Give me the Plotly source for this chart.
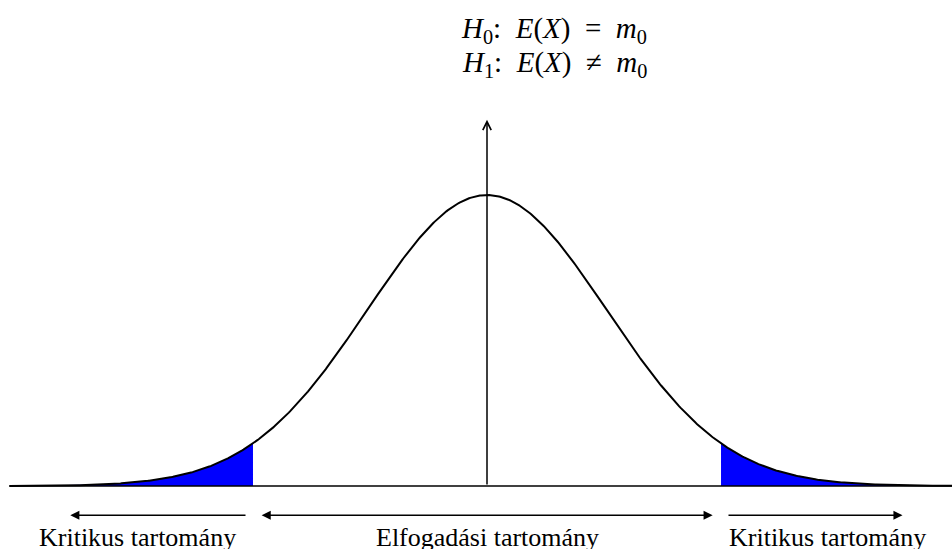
import numpy as np
import plotly.graph_objects as go

# Standard normal test statistic, two-sided test at the 5% level
mean = 0.0
sd = 1.0
z_crit = 1.96
x_min, x_max = -4.0, 4.0
y_axis_top = 0.502

hypotheses = [
    "<i>H</i><sub>0</sub>:&#8194;<i>E</i>(<i>X</i>)&#8194;=&#8194;<i>m</i><sub>0</sub>",
    "<i>H</i><sub>1</sub>:&#8194;<i>E</i>(<i>X</i>)&#8194;≠&#8194;<i>m</i><sub>0</sub>",
]
region_labels = ["Kritikus tartomány", "Elfogadási tartomány", "Kritikus tartomány"]
# arrow spans under the axis (in units of the test statistic)
left_span = (-2.01, -3.49)
middle_span = (-1.90, 1.89)
right_span = (2.01, 3.48)
label_x = [-2.93, 0.0, 2.85]


def pdf(x):
    return np.exp(-0.5 * ((x - mean) / sd) ** 2) / (sd * np.sqrt(2 * np.pi))


xs = np.linspace(x_min, x_max, 801)
ys = pdf(xs)

fig = go.Figure()

# shaded rejection regions
for lo, hi in [(x_min, -z_crit), (z_crit, x_max)]:
    seg = np.linspace(lo, hi, 200)
    px = np.concatenate([[lo], seg, [hi]])
    py = np.concatenate([[0], pdf(seg), [0]])
    fig.add_trace(go.Scatter(x=px, y=py, fill="toself", fillcolor="#0000ff",
                             line=dict(width=0), mode="lines", hoverinfo="skip"))

# horizontal axis
fig.add_trace(go.Scatter(x=[x_min, x_max + 0.2], y=[0, 0], mode="lines",
                         line=dict(color="black", width=1.6), hoverinfo="skip"))

# density curve
fig.add_trace(go.Scatter(x=xs, y=ys, mode="lines",
                         line=dict(color="black", width=2), hoverinfo="skip"))

annotations = []
# vertical axis with arrow
annotations.append(dict(x=0, y=y_axis_top, ax=0, ay=0, xref="x", yref="y",
                        axref="x", ayref="y", showarrow=True, arrowhead=5,
                        arrowsize=1.1, arrowwidth=1.5, arrowcolor="black", text=""))

arrow_y = -0.040
for (x0, x1) in [left_span, right_span]:
    annotations.append(dict(x=x1, y=arrow_y, ax=x0, ay=arrow_y, xref="x", yref="y",
                            axref="x", ayref="y", showarrow=True, arrowhead=2,
                            arrowsize=1.3, arrowwidth=1.4, arrowcolor="black", text=""))
annotations.append(dict(x=middle_span[1], y=arrow_y, ax=middle_span[0], ay=arrow_y,
                        xref="x", yref="y", axref="x", ayref="y", showarrow=True,
                        arrowhead=2, startarrowhead=2, arrowside="end+start",
                        arrowsize=1.3, startarrowsize=1.3, arrowwidth=1.4,
                        arrowcolor="black", text=""))

for lx, txt in zip(label_x, region_labels):
    annotations.append(dict(x=lx, y=-0.070, xref="x", yref="y", text=txt,
                            showarrow=False, xanchor="center", yanchor="middle",
                            font=dict(family="Liberation Serif", size=26, color="black")))

# hypotheses above the plot (pixel positions converted to paper coordinates)
W, H = 952, 549
for i, h in enumerate(hypotheses):
    annotations.append(dict(x=554 / W, y=1 - (30 + 34 * i) / H, xref="paper",
                            yref="paper", text=h, showarrow=False,
                            xanchor="center", yanchor="middle",
                            font=dict(family="Liberation Serif", size=29, color="black")))

fig.update_layout(annotations=annotations)

px_per_x = 119.4
px_per_y = 729.4
fig.update_layout(
    width=W, height=H,
    margin=dict(l=0, r=0, t=0, b=0),
    paper_bgcolor="white", plot_bgcolor="white",
    showlegend=False,
    xaxis=dict(range=[(0 - 487) / px_per_x, (W - 487) / px_per_x],
               visible=False, fixedrange=True),
    yaxis=dict(range=[-(H - 486) / px_per_y, 486 / px_per_y],
               visible=False, fixedrange=True),
)

fig.write_html("out.html")
